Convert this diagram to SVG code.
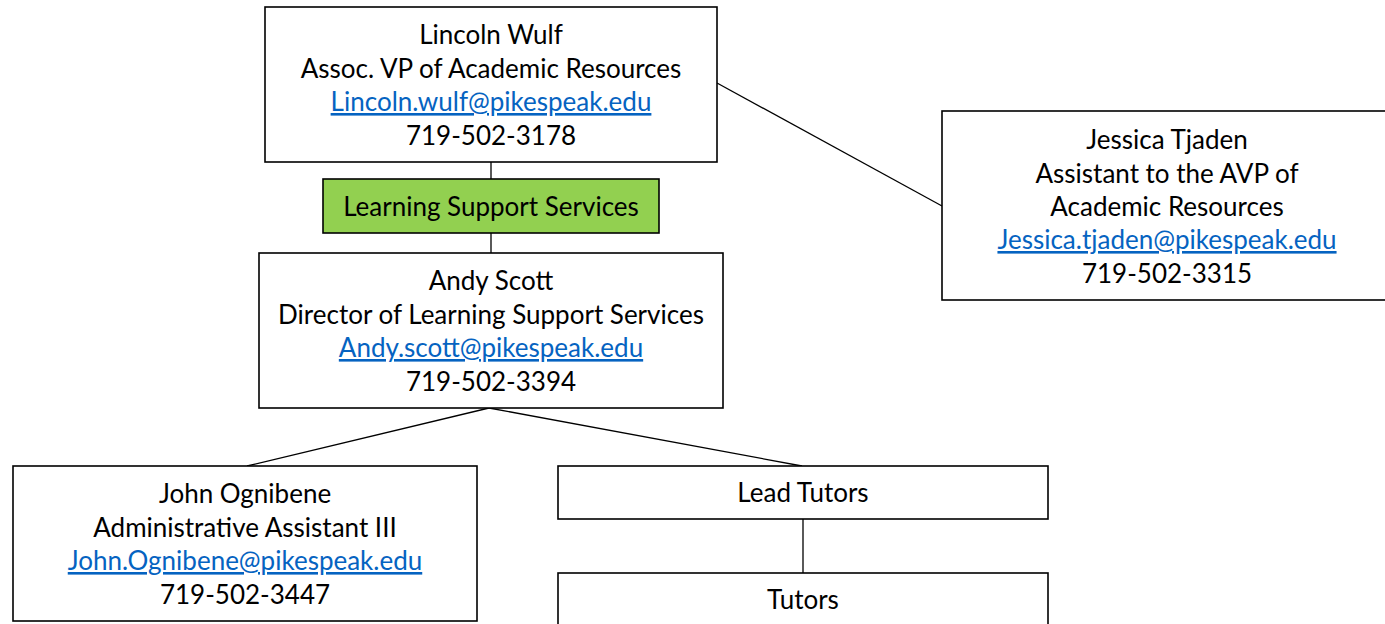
<svg xmlns="http://www.w3.org/2000/svg" width="1385" height="624" viewBox="0 0 1385 624">
<style>
.box{fill:#fff;stroke:#000;stroke-width:1.6}
.green{fill:#92D050;stroke:#000;stroke-width:1.6}
.t{font-family:Lato,"Open Sans","Liberation Sans",sans-serif;font-size:26px;fill:#000;text-anchor:middle}
.a{fill:#0563C1;text-decoration:underline}
.c{stroke:#000;stroke-width:1.3;fill:none}
</style>
<rect width="1385" height="624" fill="#fff"/>
<g id="connectors">
<line class="c" x1="491" y1="162" x2="491" y2="179"/>
<line class="c" x1="491" y1="233" x2="491" y2="253"/>
<line class="c" x1="717" y1="83" x2="942" y2="206"/>
<line class="c" x1="489" y1="408" x2="247" y2="466"/>
<line class="c" x1="489" y1="408" x2="802" y2="466"/>
<line class="c" x1="803" y1="519" x2="803" y2="573"/>
</g>
<g id="lincoln">
<rect class="box" x="265" y="7" width="452" height="155"/>
<text class="t" x="491" y="44">Lincoln Wulf</text>
<text class="t" x="491" y="78">Assoc. VP of Academic Resources</text>
<text class="t a" x="491" y="111">Lincoln.wulf@pikespeak.edu</text>
<text class="t" x="491" y="145">719-502-3178</text>
</g>
<g id="lss">
<rect class="green" x="323" y="179" width="336" height="54"/>
<text class="t" x="491" y="216">Learning Support Services</text>
</g>
<g id="jessica">
<rect class="box" x="942" y="111" width="450" height="189"/>
<text class="t" x="1167" y="149">Jessica Tjaden</text>
<text class="t" x="1167" y="183">Assistant to the AVP of</text>
<text class="t" x="1167" y="216">Academic Resources</text>
<text class="t a" x="1167" y="249">Jessica.tjaden@pikespeak.edu</text>
<text class="t" x="1167" y="283">719-502-3315</text>
</g>
<g id="andy">
<rect class="box" x="259" y="253" width="464" height="155"/>
<text class="t" x="491" y="290">Andy Scott</text>
<text class="t" x="491" y="324">Director of Learning Support Services</text>
<text class="t a" x="491" y="357">Andy.scott@pikespeak.edu</text>
<text class="t" x="491" y="391">719-502-3394</text>
</g>
<g id="john">
<rect class="box" x="13" y="466" width="464" height="155"/>
<text class="t" x="245" y="503">John Ognibene</text>
<text class="t" x="245" y="537">Administrative Assistant III</text>
<text class="t a" x="245" y="570">John.Ognibene@pikespeak.edu</text>
<text class="t" x="245" y="604">719-502-3447</text>
</g>
<g id="leadtutors">
<rect class="box" x="558" y="466" width="490" height="53"/>
<text class="t" x="803" y="502">Lead Tutors</text>
</g>
<g id="tutors">
<rect class="box" x="558" y="573" width="490" height="60"/>
<text class="t" x="803" y="609">Tutors</text>
</g>
</svg>
